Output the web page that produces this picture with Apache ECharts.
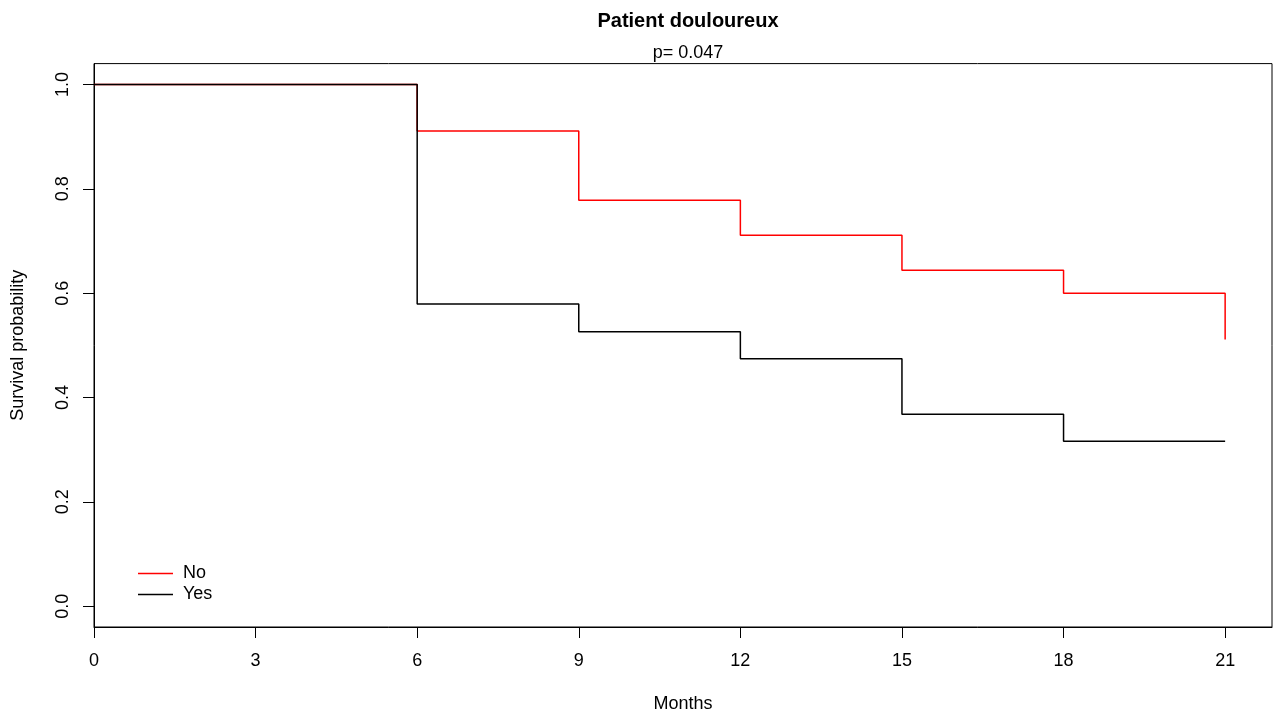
<!DOCTYPE html>
<html>
<head>
<meta charset="utf-8">
<script src="https://cdn.jsdelivr.net/npm/echarts@6/dist/echarts.min.js"></script>
<style>html,body{margin:0;padding:0;background:#fff;}#chart{width:1277px;height:718px;}</style>
</head>
<body>
<div id="chart"></div>
<script>
var months = [0, 6, 9, 12, 15, 18, 21];
var survNo = [1.0, 0.911, 0.778, 0.711, 0.644, 0.600, 0.511];
var survYes = [1.0, 0.579, 0.526, 0.474, 0.368, 0.316, 0.316];
var xTicks = [0, 3, 6, 9, 12, 15, 18, 21];
var yTicks = [0.0, 0.2, 0.4, 0.6, 0.8, 1.0];
var groups = ['No', 'Yes'];
var groupColors = ['#ff0000', '#000000'];

function pairs(xs, ys) { return xs.map(function (x, i) { return [x, ys[i]]; }); }

var font = 'Liberation Sans, Arial, sans-serif';
var chart = echarts.init(document.getElementById('chart'), null, { renderer: 'canvas' });
chart.setOption({
  backgroundColor: '#fff',
  animation: false,
  title: [
    { text: 'Patient douloureux', left: 683, top: 6, textAlign: 'center',
      textStyle: { fontFamily: font, fontSize: 20, fontWeight: 'bold', color: '#000' } },
    { text: 'p= 0.047', left: 683, top: 39, textAlign: 'center',
      textStyle: { fontFamily: font, fontSize: 18, fontWeight: 'normal', color: '#000' } }
  ],
  grid: { left: 94, right: 5, top: 63.6, bottom: 91, show: true, borderColor: '#000', borderWidth: 1,
    backgroundColor: 'transparent', containLabel: false, outerBoundsMode: 'none' },
  legend: {
    left: 133, top: 558, orient: 'vertical', itemWidth: 35, itemHeight: 1.5, itemGap: 0,
    data: groups.map(function (g, i) { return { name: g, icon: 'rect', itemStyle: { color: groupColors[i] } }; }),
    textStyle: { fontFamily: font, fontSize: 18, color: '#000', lineHeight: 21, padding: [0, 0, 0, 5] }
  },
  xAxis: {
    type: 'value', min: 0, max: 21.87,
    name: 'Months', nameLocation: 'middle', nameGap: 68,
    nameTextStyle: { fontFamily: font, fontSize: 18, color: '#000' },
    axisLine: { show: true, onZero: false, lineStyle: { color: '#000', width: 1 } },
    axisTick: { show: true, inside: false, length: 11, customValues: xTicks, lineStyle: { color: '#000' } },
    axisLabel: { fontFamily: font, fontSize: 18, color: '#000', margin: 25, customValues: xTicks },
    splitLine: { show: false }
  },
  yAxis: {
    type: 'value', min: -0.04, max: 1.04,
    name: 'Survival probability', nameLocation: 'middle', nameGap: 67,
    nameTextStyle: { fontFamily: font, fontSize: 18, color: '#000' },
    axisLine: { show: true, onZero: false, lineStyle: { color: '#000', width: 1 } },
    axisTick: { show: true, inside: false, length: 11, customValues: yTicks, lineStyle: { color: '#000' } },
    axisLabel: { fontFamily: font, fontSize: 18, color: '#000', rotate: 90, margin: 22, customValues: yTicks,
      formatter: function (v) { return v.toFixed(1); } },
    splitLine: { show: false }
  },
  series: [
    { name: groups[0], type: 'line', step: 'end', symbol: 'none', data: pairs(months, survNo),
      lineStyle: { color: groupColors[0], width: 1.5 }, itemStyle: { color: groupColors[0] }, z: 2 },
    { name: groups[1], type: 'line', step: 'end', symbol: 'none', data: pairs(months, survYes),
      lineStyle: { color: groupColors[1], width: 1.5 }, itemStyle: { color: groupColors[1] }, z: 3 }
  ]
});
</script>
</body>
</html>
